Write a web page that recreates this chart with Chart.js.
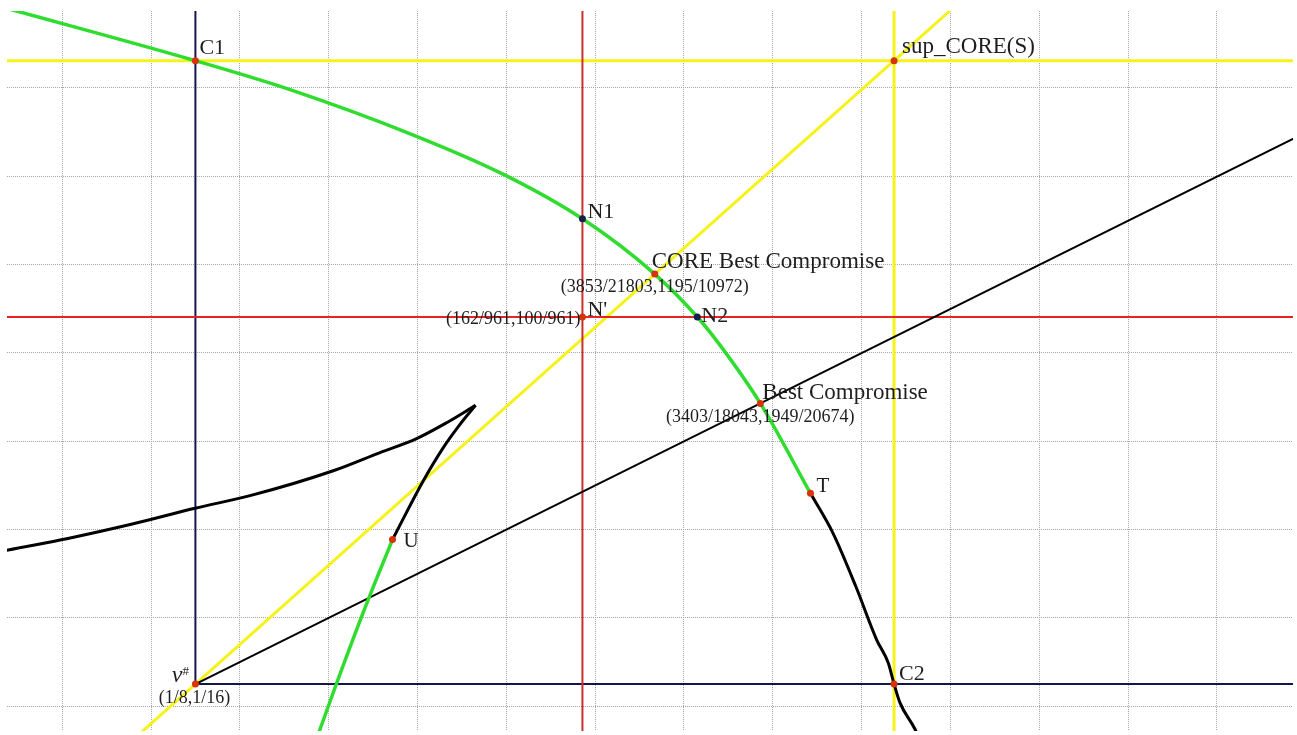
<!DOCTYPE html>
<html>
<head>
<meta charset="utf-8">
<title>CORE Best Compromise</title>
<script src="https://cdn.jsdelivr.net/npm/chart.js@4.4.1/dist/chart.umd.min.js"></script>
<style>
    html, body { margin: 0; padding: 0; background: #ffffff; }
    canvas { display: block; }
</style>
</head>
<body>
<canvas id="grafica" width="1297" height="735"></canvas>
<script>
// Window of the plane that is shown
const xRange = [0.103787, 0.248575]
const yRange = [0.057185, 0.138698]

// Dotted grid every 0.01
const xGrid = [0.11, 0.12, 0.13, 0.14, 0.15, 0.16, 0.17, 0.18, 0.19, 0.20, 0.21, 0.22, 0.23, 0.24]
const yGrid = [0.06, 0.07, 0.08, 0.09, 0.10, 0.11, 0.12, 0.13]

// Named points
const vSharp = [1 / 8, 1 / 16]
const C1 = [1 / 8, 0.13307]
const C2 = [0.20366, 1 / 16]
const supCore = [0.20366, 0.13307]
const nPrime = [162 / 961, 100 / 961]
const N1 = [162 / 961, 0.11517]
const N2 = [0.18151, 100 / 961]
const coreBest = [3853 / 21803, 1195 / 10972]
const best = [3403 / 18043, 1949 / 20674]
const T = [0.19425, 0.08409]
const U = [0.14719, 0.07886]
const cusp = [0.15654, 0.09406]

// Green frontier, upper left down to T
const greenUpper = [[0.10300, 0.13921], C1, [0.13565, 0.12980], [0.14961, 0.12463], [0.15986, 0.12012],
    N1, coreBest, N2, [0.18406, 0.10087], best, T]
// Black continuation from T through C2
const blackLower = [T, [0.19682, 0.07951], [0.19937, 0.07351], [0.20170, 0.06751], [0.20301, 0.06488],
    C2, [0.20433, 0.06037], [0.20602, 0.05738], [0.20658, 0.05606]]
// Green branch below U
const greenLower = [U, [0.14429, 0.07163], [0.14091, 0.06262], [0.13903, 0.05738], [0.13858, 0.05606]]
// Black branch from U up to the cusp, then back to the left
const blackRise = [U, [0.15066, 0.08552], [0.15291, 0.08927], [0.15479, 0.09190], cusp]
const blackLeft = [cusp, [0.15329, 0.09209], [0.14991, 0.09029], [0.14578, 0.08871], [0.14052, 0.08665],
    [0.13115, 0.08383], [0.12495, 0.08240], [0.11801, 0.08064], [0.11051, 0.07895], [0.10375, 0.07764], [0.10244, 0.07734]]

// Straight lines
const yellowDiag = [[0.11782, 0.05606], vSharp, coreBest, supCore, [0.21130, 0.13994]]
const yellowTop = [[0.10, C1[1]], [0.26, C1[1]]]
const yellowSide = [[C2[0], 0.05], [C2[0], 0.15]]
const redSide = [[nPrime[0], 0.05], [nPrime[0], 0.15]]
const redFlat = [[0.10, nPrime[1]], [0.26, nPrime[1]]]
const navyUp = [vSharp, [vSharp[0], 0.15]]
const navyRight = [vSharp, [0.26, vSharp[1]]]
const bestRay = [vSharp, best, [0.25049, 0.12519]]

const redDots = [C1, supCore, C2, vSharp, nPrime, coreBest, best, T, U]
const navyDots = [N1, N2]

const pts = (list) => list.map(p => ({ x: p[0], y: p[1] }))

function path(list, color, width, smooth) {
    return {
        data: pts(list),
        showLine: true,
        borderColor: color,
        borderWidth: width,
        pointRadius: 0,
        cubicInterpolationMode: smooth ? "monotone" : "default",
        tension: 0,
        clip: 0,
    }
}

function dots(list, color) {
    return {
        data: pts(list),
        showLine: false,
        pointRadius: 3.5,
        pointBorderWidth: 0,
        backgroundColor: color,
        clip: 0,
    }
}

// Text next to the points
const labelLayout = [
    { at: C1, text: "C1", size: 22, dx: 4, dy: -7 },
    { at: supCore, text: "sup_CORE(S)", size: 23, dx: 8, dy: -8 },
    { at: N1, text: "N1", size: 22, dx: 5, dy: -1 },
    { at: coreBest, text: "CORE Best Compromise", size: 23, dx: -3, dy: -6 },
    { at: coreBest, text: "(3853/21803,1195/10972)", size: 18, align: "center", dx: 0, dy: 18 },
    { at: nPrime, text: "N'", size: 22, dx: 5, dy: -1 },
    { at: nPrime, text: "(162/961,100/961)", size: 18, align: "right", dx: -2, dy: 7 },
    { at: N2, text: "N2", size: 22, dx: 4, dy: 5 },
    { at: best, text: "Best Compromise", size: 23, dx: 2, dy: -4 },
    { at: best, text: "(3403/18043,1949/20674)", size: 18, align: "center", dx: 0, dy: 19 },
    { at: T, text: "T", size: 21, dx: 6, dy: -1 },
    { at: U, text: "U", size: 21, dx: 11, dy: 7 },
    { at: C2, text: "C2", size: 22, dx: 5, dy: -4 },
    { at: vSharp, text: "v", size: 24, style: "italic", align: "right", dx: -13, dy: -2 },
    { at: vSharp, text: "#", size: 13, dx: -13, dy: -9 },
    { at: vSharp, text: "(1/8,1/16)", size: 18, align: "center", dx: -1, dy: 19 },
]

const pointLabels = {
    id: "pointLabels",
    afterDatasetsDraw(chart) {
        const ctx = chart.ctx
        const xs = chart.scales.x
        const ys = chart.scales.y
        ctx.save()
        ctx.fillStyle = "#1e1e1e"
        ctx.textBaseline = "alphabetic"
        labelLayout.forEach(l => {
            ctx.font = (l.style || "normal") + " " + l.size + "px 'Liberation Serif', 'Times New Roman', serif"
            ctx.textAlign = l.align || "left"
            ctx.fillText(l.text, xs.getPixelForValue(l.at[0]) + l.dx, ys.getPixelForValue(l.at[1]) + l.dy)
        })
        ctx.restore()
    }
}

const gridScale = (range, ticks) => ({
    type: "linear",
    min: range[0],
    max: range[1],
    afterBuildTicks: (scale) => { scale.ticks = ticks.map(v => ({ value: v })) },
    ticks: { display: false },
    border: { display: false, dash: [1, 1] },
    grid: { color: "#a6a6a6", lineWidth: 1, drawTicks: false },
})

const grafica = document.getElementById("grafica")
new Chart(grafica, {
    type: "scatter",
    data: {
        // first dataset ends up on top
        datasets: [
            dots(redDots, "#d8340c"),
            dots(navyDots, "#14214f"),
            path(blackRise, "#000000", 3, true),
            path(blackLeft, "#000000", 3, true),
            path(blackLower, "#000000", 3, true),
            path(greenUpper, "#2fdc2f", 3.5, true),
            path(greenLower, "#2fdc2f", 3.5, true),
            path(bestRay, "#000000", 2),
            path(redSide, "#c8302c", 2),
            path(redFlat, "#e62424", 2),
            path(yellowDiag, "#f6f21c", 3),
            path(yellowTop, "#f6f21c", 3),
            path(yellowSide, "#f6f21c", 3),
            path(navyUp, "#14144f", 2),
            path(navyRight, "#14144f", 2),
        ]
    },
    options: {
        responsive: false,
        animation: false,
        layout: { padding: { left: 7, top: 11, right: 4, bottom: 0 } },
        plugins: { legend: { display: false }, tooltip: { enabled: false } },
        scales: {
            x: gridScale(xRange, xGrid),
            y: gridScale(yRange, yGrid),
        }
    },
    plugins: [pointLabels]
});
</script>
</body>
</html>
